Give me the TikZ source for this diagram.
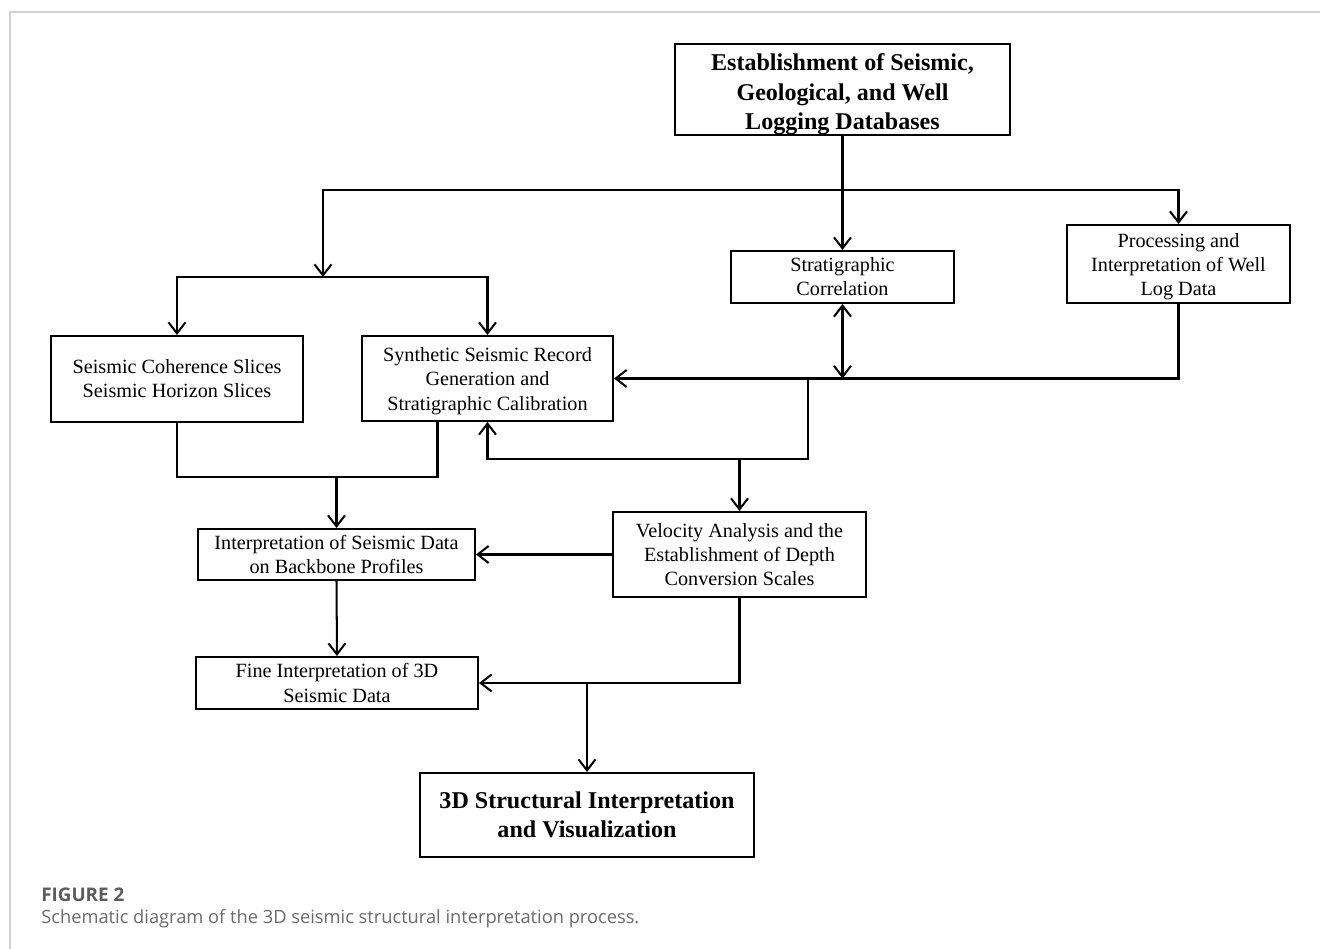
\documentclass[tikz,border=0pt]{standalone}
\usepackage{fontspec}
\setmainfont{Liberation Serif}
\newfontfamily\capfont{Open Sans}
\usetikzlibrary{arrows.meta,calc}

\tikzset{
  >={Straight Barb[length=2.2mm,width=3.4mm]},
  flow/.style={line width=1.15pt},
  stepbox/.style={draw, line width=1.15pt, inner sep=0pt, align=center,
    font=\fontsize{11.5}{13.7}\selectfont},
  keybox/.style={stepbox, font=\fontsize{13.7}{16.8}\selectfont\bfseries},
}
\newcommand{\liftline}[1]{\rule{0pt}{#1}}

\begin{document}
\begin{tikzpicture}[x=0.02cm, y=-0.02cm]
  \useasboundingbox (0,0) rectangle (1320,949);
  % page frame
  \draw[line width=1.2pt, black!18] (10,949) -- (10,12) -- (1320,12);

  \node[keybox, minimum width=6.7cm, minimum height=1.78cm] (top) at (842.5,89.5)
    {\liftline{15pt}Establishment of Seismic,\\ Geological, and Well\\ Logging Databases};
  \node[stepbox, minimum width=4.46cm, minimum height=1.04cm] (strat) at (842.5,277)
    {Stratigraphic\\ Correlation};
  \node[stepbox, minimum width=4.46cm, minimum height=1.56cm] (well) at (1178.5,264)
    {\liftline{11pt}Processing and\\ Interpretation of Well\\ Log Data};
  \node[stepbox, minimum width=5.04cm, minimum height=1.72cm] (coh) at (177,379)
    {Seismic Coherence Slices\\ Seismic Horizon Slices};
  \node[stepbox, minimum width=5.02cm, minimum height=1.70cm] (synth) at (487.5,378.5)
    {\liftline{11pt}Synthetic Seismic Record\\ Generation and\\ Stratigraphic Calibration};
  \node[stepbox, minimum width=5.54cm, minimum height=1.02cm] (interp) at (336.5,554.5)
    {Interpretation of Seismic Data\\ on Backbone Profiles};
  \node[stepbox, minimum width=5.06cm, minimum height=1.70cm] (vel) at (739.5,554.5)
    {Velocity Analysis and the\\ Establishment of Depth\\ Conversion Scales};
  \node[stepbox, minimum width=5.64cm, minimum height=1.04cm] (fine) at (337,683)
    {Fine Interpretation of 3D\\ Seismic Data};
  \node[keybox, minimum width=6.68cm, minimum height=1.68cm] (final) at (587,815)
    {3D Structural Interpretation\\ and Visualization};

  % junction points
  \coordinate (bus) at (842.5,190);
  \coordinate (hub) at (323,277);
  \coordinate (tap) at (808,378.5);
  \coordinate (knee) at (808,459);
  \coordinate (merge) at (336.5,476);

  \draw[flow,->] (top.south) -- (strat.north);
  \draw[flow,->] (bus) -| (hub);
  \draw[flow,->] (bus) -| (well.north);
  \draw[flow,->] (hub) -| (coh.north);
  \draw[flow,->] (hub) -| (synth.north);
  \draw[flow,->] (well.south) |- (synth.east);
  \draw[flow,<->] (strat.south) -- (strat.south |- synth.east);
  \draw[flow,->] (tap) -- (knee) -| (synth.south);
  \draw[flow,->] (vel.north |- knee) -- (vel.north);
  \draw[flow] (coh.south) |- ($(synth.south)+(-50,55)$) -- ($(synth.south)+(-50,0)$);
  \draw[flow,->] (merge) -- (interp.north);
  \draw[flow,->] (vel.west) -- (interp.east);
  \draw[flow,->] (interp.south) -- (fine.north);
  \draw[flow,->] (vel.south) |- (fine.east);
  \draw[flow,->] (final.north |- fine.east) -- (final.north);

  % caption
  \node[anchor=west, inner sep=0pt, text=black!64,
    font=\capfont\fontsize{10.7}{12}\selectfont\bfseries] (figno) at (41,895) {FIGURE 2};
  \node[anchor=west, inner sep=0pt, text=black!58,
    font=\capfont\fontsize{10.4}{12}\selectfont] (figtext) at (41,919)
    {Schematic diagram of the 3D seismic structural interpretation process.};
\end{tikzpicture}
\end{document}
